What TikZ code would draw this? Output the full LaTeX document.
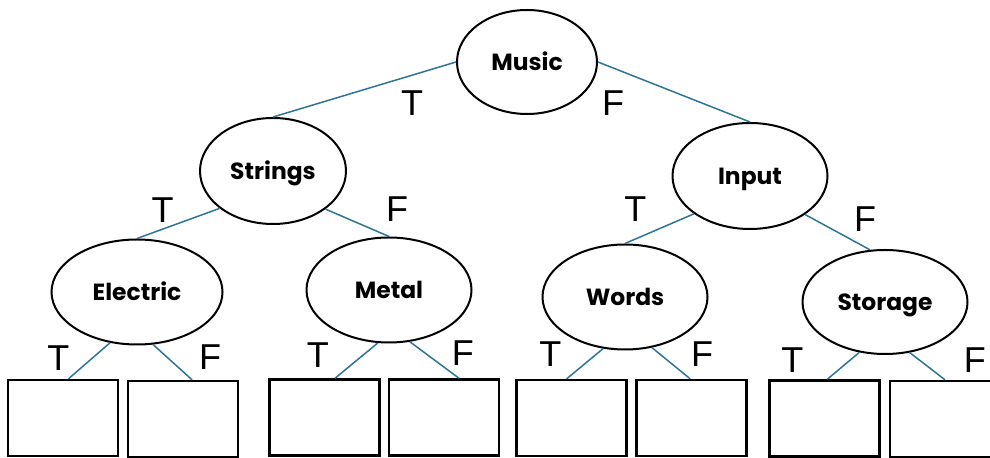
\documentclass[tikz,border=0pt]{standalone}
\usepackage{fontspec}
\setsansfont{Liberation Sans}
\newfontfamily\questfont{Poppins}
\usetikzlibrary{shapes.geometric}
\definecolor{edgeblue}{RGB}{46,116,150}
\tikzset{
	question/.style={ellipse, draw, line width=1pt, inner sep=0pt, text height=8.2pt, text depth=0pt, font=\questfont\bfseries\fontsize{11.7}{12}\selectfont},
	leaf/.style={rectangle, draw, line width=1.2pt, minimum width=55pt, minimum height=38pt},
	branch/.style={draw=edgeblue, line width=.75pt},
	tf/.style={font=\sffamily\fontsize{18}{18}\selectfont, inner sep=0pt},
}
\begin{document}
\begin{tikzpicture}[x=.5pt,y=-.5pt]
	\useasboundingbox (0,0) rectangle (990,458);
	\node[question, minimum width=70pt, minimum height=52pt] at (527,62) (music) {Music};
	\node[question, minimum width=73pt, minimum height=53pt] at (273,171) (strings) {Strings};
	\node[question, minimum width=77.5pt, minimum height=53pt] at (750,176) (input) {Input};
	\node[question, minimum width=85.5pt, minimum height=52.5pt] at (137,292) (electric) {Electric};
	\node[question, minimum width=82.5pt, minimum height=52.5pt] at (389,290) (metal) {Metal};
	\node[question, minimum width=82.5pt, minimum height=52.5pt] at (625,297) (words) {Words};
	\node[question, minimum width=82.5pt, minimum height=52pt] at (885,302) (storage) {Storage};
	%
	\node[leaf] at (63,418) (eT) {};
	\node[leaf] at (183,419) (eF) {};
	\node[leaf] at (324.5,417.5) (mT) {};
	\node[leaf] at (444,417.5) (mF) {};
	\node[leaf] at (571.5,418) (wT) {};
	\node[leaf] at (691.5,418) (wF) {};
	\node[leaf] at (824.5,418.5) (sT) {};
	\node[leaf] at (945,419) (sF) {};
	%
	\draw[branch] (music.west) -- (strings.north) node[tf,pos=.24,yshift=-13.8pt] {T};
	\draw[branch] (music.east) -- (input.north) node[tf,pos=.1,yshift=-17.5pt] {F};
	\draw[branch] (strings.215) -- (electric.north) node[tf,pos=.69,yshift=9.6pt] {T};
	\draw[branch] (strings.-36) -- (metal.north) node[tf,pos=1,xshift=4pt,yshift=13.5pt] {F};
	\draw[branch] (input.214) -- (words.north) node[tf,pos=.85,yshift=15.2pt] {T};
	\draw[branch] (input.-35) -- (storage.106) node[tf,pos=.9,xshift=.75pt,yshift=13.75pt] {F};
	%
	\draw[branch] (electric.-118) -- (eT.82) node[tf,pos=.5,xshift=-15.5pt,yshift=1.5pt] {T};
	\draw[branch] (electric.-73) -- (eF.77) node[tf,pos=.5,xshift=18.75pt,yshift=2.75pt] {F};
	\draw[branch] (metal.-102) -- (mT.75) node[tf,pos=.5,xshift=-19.25pt,yshift=2.75pt] {T};
	\draw[branch] (metal.-68) -- (mF.69) node[tf,pos=.5,xshift=14.25pt,yshift=3.5pt] {F};
	\draw[branch] (words.-113) -- (wT.97) node[tf,pos=.5,xshift=-17.25pt,yshift=5pt] {T};
	\draw[branch] (words.-62) -- (wF.92) node[tf,pos=.5,xshift=15.5pt,yshift=4.5pt] {F};
	\draw[branch] (storage.-117) -- (sT.86) node[tf,pos=.5,xshift=-25.5pt,yshift=3pt] {T};
	\draw[branch] (storage.-64) -- (sF.north) node[tf,pos=.5,xshift=23.75pt,yshift=3.25pt] {F};
\end{tikzpicture}
\end{document}
